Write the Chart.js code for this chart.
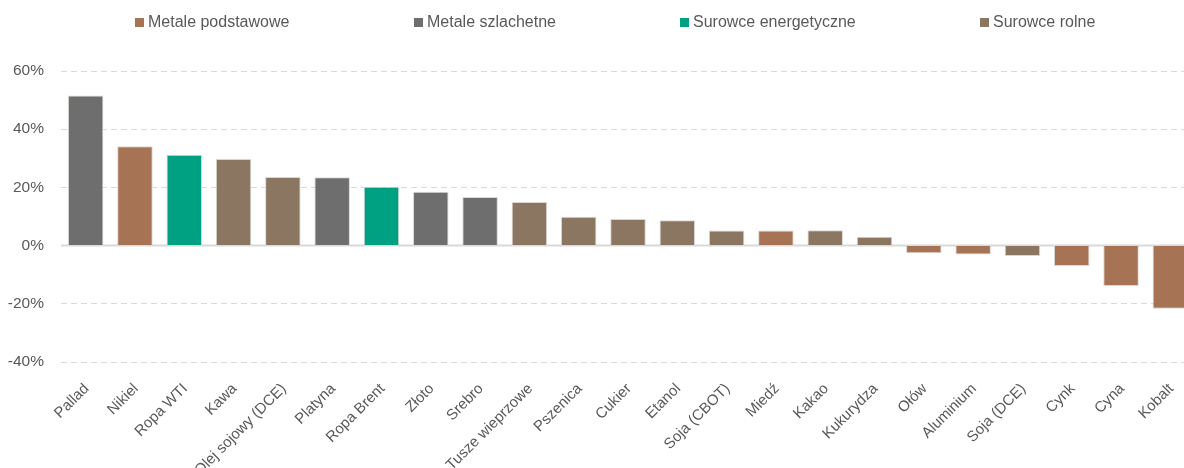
<!DOCTYPE html>
<html lang="pl">
<head>
<meta charset="utf-8">
<script src="https://cdn.jsdelivr.net/npm/chart.js@4"></script>
<style>
  html, body { margin: 0; padding: 0; background: #fff; overflow: hidden; }
  #wrap { position: relative; width: 1195px; height: 468px; }
  #legend { position: absolute; top: 13px; left: 135px; display: flex; font-family: "Liberation Sans", Arial, sans-serif; font-size: 16px; color: #595959; }
  #legend .item { display: flex; align-items: center; }
  #legend .box { width: 9px; height: 9px; margin-right: 4px; flex: none; }
  #legend .txt { white-space: nowrap; }
</style>
</head>
<body>
<div id="wrap">
  <canvas id="ct-chart"></canvas>
  <div id="legend"></div>
</div>
<script>
"use strict";
const fontFamily = '"Liberation Sans", Arial, sans-serif';

const labels = ["Pallad", "Nikiel", "Ropa WTI", "Kawa", "Olej sojowy (DCE)", "Platyna", "Ropa Brent", "Złoto", "Srebro",
    "Tusze wieprzowe", "Pszenica", "Cukier", "Etanol", "Soja (CBOT)", "Miedź", "Kakao", "Kukurydza", "Ołów",
    "Aluminium", "Soja (DCE)", "Cynk", "Cyna", "Kobalt"];
const values = [51.6, 34.1, 31.2, 29.8, 23.6, 23.5, 20.2, 18.5, 16.7, 15.0, 9.9, 9.1, 8.7, 5.2, 5.2, 5.3, 3.0, -2.6,
    -3.1, -3.6, -7.0, -13.9, -21.7];
// 0 = podstawowe, 1 = szlachetne, 2 = energetyczne, 3 = rolne
const groups = [1, 0, 2, 3, 3, 1, 2, 1, 1, 3, 3, 3, 3, 3, 0, 3, 3, 0, 0, 3, 0, 0, 0];
const groupNames = ["Metale podstawowe", "Metale szlachetne", "Surowce energetyczne", "Surowce rolne"];
const groupColors = ["#A67455", "#6E6E6E", "#00A182", "#8A7661"];
const yTicks = [-40, -20, 0, 20, 40, 60];

const datasets = groupNames.map((name, g) => ({
    label: name,
    data: values.map((v, i) => groups[i] === g ? v : null),
    backgroundColor: groupColors[g],
    borderColor: "rgba(215, 210, 205, 0.9)",
    borderWidth: 1,
    barPercentage: 0.72,
    categoryPercentage: 1.0
}));

// linia zero rysowana przez skalę
const zeroLine = {
    id: 'zeroLine',
    beforeDatasetsDraw(chart) {
        const y = chart.scales.y.getPixelForValue(0);
        const ctx = chart.ctx;
        ctx.save();
        ctx.strokeStyle = "#d9d9d9";
        ctx.lineWidth = 2;
        ctx.beginPath();
        ctx.moveTo(chart.chartArea.left, y);
        ctx.lineTo(chart.chartArea.right, y);
        ctx.stroke();
        ctx.restore();
    }
};

const ctx = document.getElementById('ct-chart').getContext('2d');
const chart = new Chart(ctx, {
    type: 'bar',
    data: { labels: labels, datasets: datasets },
    options: {
        responsive: true,
        maintainAspectRatio: false,
        animation: false,
        layout: { padding: { top: 71, right: 0, left: 0, bottom: 0 } },
        scales: {
            x: {
                stacked: true,
                grid: { display: false },
                border: { display: false },
                ticks: {
                    autoSkip: false,
                    maxRotation: 45,
                    minRotation: 45,
                    padding: 10,
                    labelOffset: 1,
                    color: "#595959",
                    font: { family: fontFamily, size: 15 }
                },
                afterFit(scale) { scale.height = 106; }
            },
            y: {
                stacked: true,
                min: -40,
                max: 60,
                afterBuildTicks(scale) { scale.ticks = yTicks.map(v => ({ value: v })); },
                grid: {
                    drawTicks: false,
                    color: ctx => ctx.tick && ctx.tick.value === 0 ? "rgba(0,0,0,0)" : "#d9d9d9",
                    lineWidth: 1
                },
                border: { display: false, dash: [6, 4] },
                ticks: {
                    padding: 17,
                    color: "#595959",
                    font: { family: fontFamily, size: 15.5 },
                    callback: v => v + "%"
                },
                afterFit(scale) { scale.width = 61; }
            }
        },
        plugins: {
            legend: { display: false },
            tooltip: { enabled: false }
        }
    },
    plugins: [zeroLine]
});

// legenda HTML z elementów legendy wykresu
const legendWidths = [279, 266, 300, 200];
const legendEl = document.getElementById('legend');
chart.options.plugins.legend.labels.generateLabels(chart).forEach((item, i) => {
    const div = document.createElement('div');
    div.className = 'item';
    div.style.width = legendWidths[i] + 'px';
    const box = document.createElement('span');
    box.className = 'box';
    box.style.background = item.fillStyle;
    const txt = document.createElement('span');
    txt.className = 'txt';
    txt.textContent = item.text;
    div.appendChild(box);
    div.appendChild(txt);
    legendEl.appendChild(div);
});
</script>
</body>
</html>
